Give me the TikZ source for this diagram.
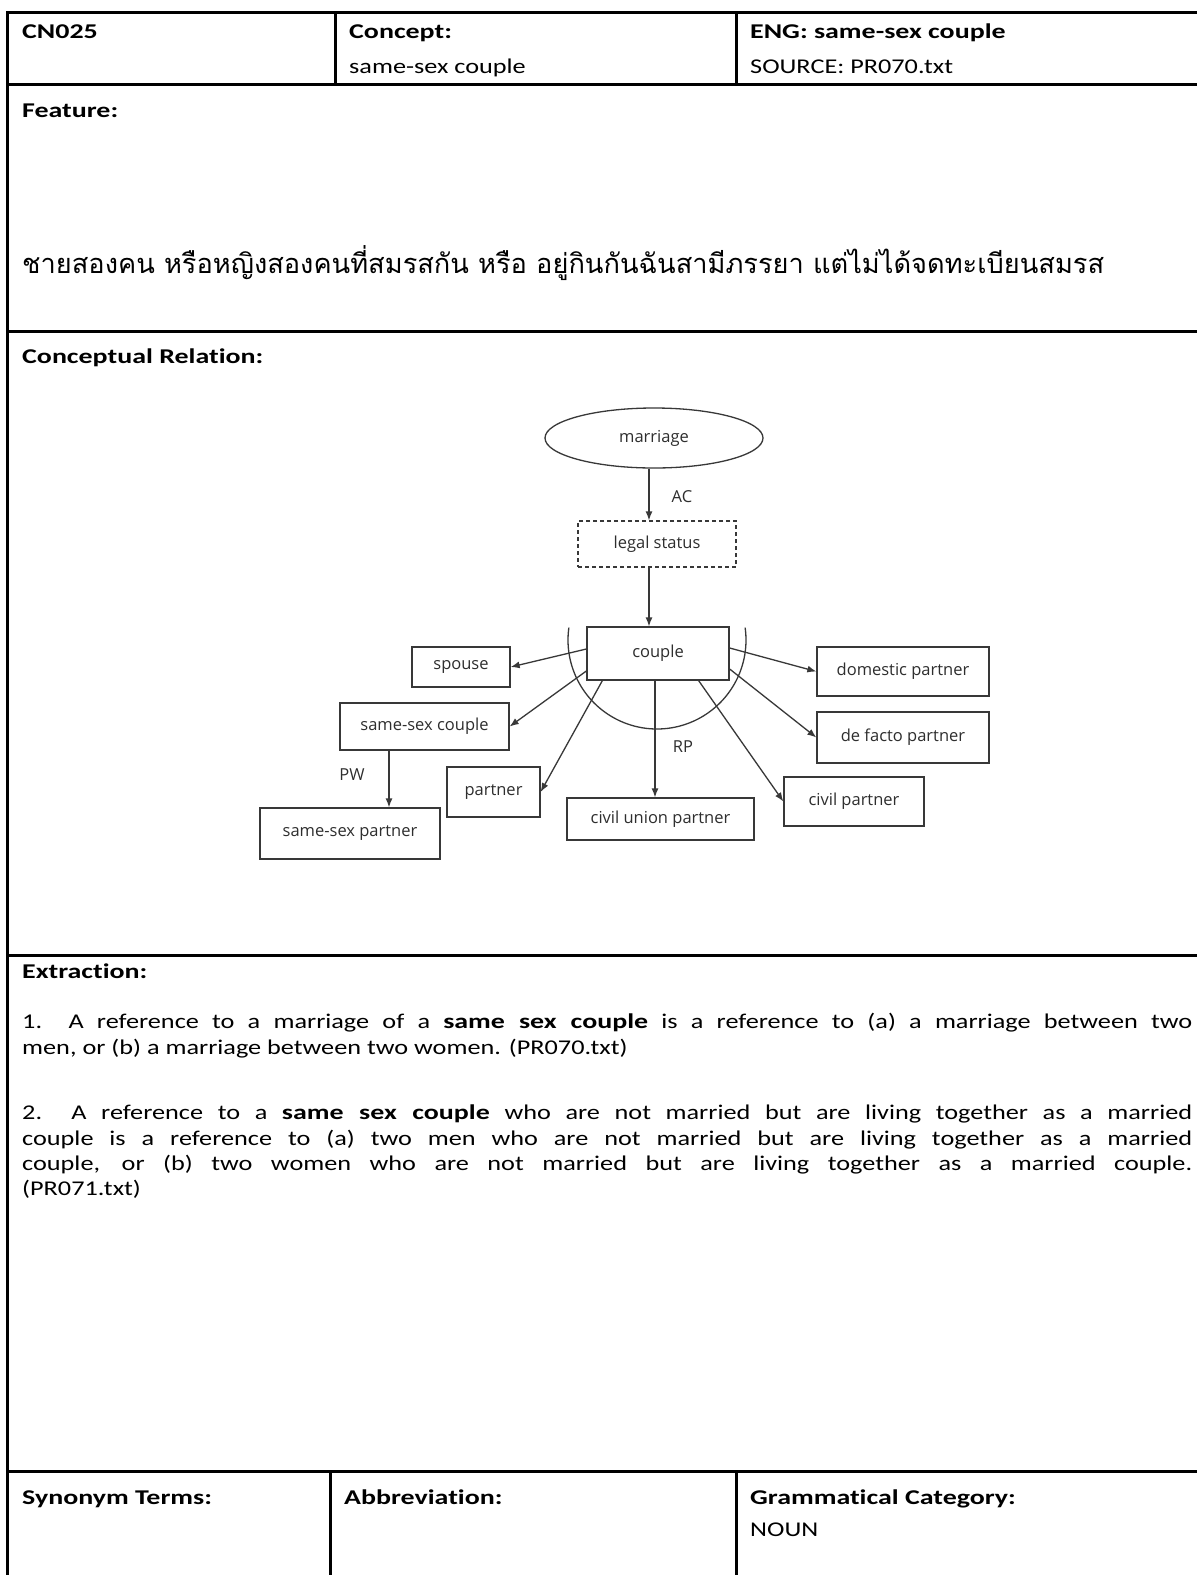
\documentclass[tikz,border=0pt]{standalone}
\usepackage{fontspec}
\setmainfont{Carlito}[Ligatures=NoCommon, FakeStretch=1.25, BoldFeatures={FakeStretch=1.33}]
\newfontfamily\diagfont{Open Sans}
\newfontfamily\thaifont[Script=Thai]{Loma}
\usetikzlibrary{arrows.meta,shapes.geometric}
\definecolor{diagline}{gray}{0.22}
\definecolor{diagtext}{gray}{0.18}

\begin{document}
\begin{tikzpicture}[x=1pt,y=-1pt,
  rule/.style={line width=3pt, line cap=rect},
  cell/.style={anchor=base west, inner sep=0pt, font=\fontsize{21}{25.3}\selectfont},
  head/.style={cell, font=\fontsize{21}{25.3}\selectfont\bfseries},
  para/.style={anchor=north west, inner sep=0pt, text width=1170pt, align=justify,
               font=\fontsize{21}{25.3}\selectfont},
  box/.style={draw=diagline, line width=1.3pt, rectangle, inner sep=0pt,
              text=diagtext, font=\diagfont\fontsize{16.5}{19}\selectfont},
  rel/.style={inner sep=0pt, text=diagtext, font=\diagfont\fontsize{16.5}{19}\selectfont},
  arrow/.style={draw=diagline, line width=1.3pt, -{Latex[length=9pt,width=7pt]}}]

\useasboundingbox (0,0) rectangle (1197,1575);
\fill[white] (0,0) rectangle (1197,1575);

% ---- table rules ----
\draw[rule] (7,1575) -- (7,12) -- (1200,12);
\draw[rule] (7,84) -- (1200,84);
\draw[rule] (7,331) -- (1200,331);
\draw[rule] (7,955) -- (1200,955);
\draw[rule] (7,1471) -- (1200,1471);
\draw[rule] (335,12) -- (335,84);
\draw[rule] (736,12) -- (736,84);
\draw[rule] (330,1471) -- (330,1580);
\draw[rule] (736,1471) -- (736,1580);

% ---- header row ----
\node[head] (id) at (22,38.5) {CN025};
\node[head] (concepthead) at (349,38.5) {Concept:};
\node[cell] (concept) at (349,73) {same-sex couple};
\node[head] (eng) at (750,38.5) {ENG: same-sex couple};
\node[cell] (source) at (750,73) {SOURCE: PR070.txt};

% ---- feature ----
\node[head] (feature) at (22,117) {Feature:};
\node[anchor=base west, inner sep=0pt, font=\thaifont\fontsize{27.2}{32}\selectfont] (featuretext) at (22,273)
  {ชายสองคน หรือหญิงสองคนที่สมรสกัน หรือ อยู่กินกันฉันสามีภรรยา แต่ไม่ได้จดทะเบียนสมรส};

% ---- conceptual relation ----
\node[head] (relhead) at (22,363) {Conceptual Relation:};

\node[box, ellipse, minimum width=218pt, minimum height=60pt] (marriage) at (654,438) {marriage};
\node[box, dashed, dash pattern=on 4pt off 3pt, minimum width=158pt, minimum height=46pt] (legal) at (657,544) {legal status};
\node[box, minimum width=142pt, minimum height=53pt] (couple) at (658,653.5) {couple};
\node[box, minimum width=98pt, minimum height=40pt] (spouse) at (461,667) {spouse};
\node[box, minimum width=169pt, minimum height=47pt] (ssc) at (424.5,726.5) {same-sex couple};
\node[box, minimum width=180pt, minimum height=51pt] (ssp) at (350,833.5) {same-sex partner};
\node[box, minimum width=93pt, minimum height=50pt] (partner) at (493.5,792) {partner};
\node[box, minimum width=187pt, minimum height=42pt] (cup) at (660.5,819) {civil union partner};
\node[box, minimum width=140pt, minimum height=49pt] (cp) at (854,801.5) {civil partner};
\node[box, minimum width=172pt, minimum height=49pt] (dp) at (903,671.5) {domestic partner};
\node[box, minimum width=172pt, minimum height=51pt] (df) at (903,737.5) {de facto partner};

\node[rel] (ac) at (682,497) {AC};
\node[rel] (rp) at (683,747) {RP};
\node[rel] (pw) at (352,775) {PW};

% grouping arc under the couple box
\draw[diagline, line width=1.3pt, smooth, samples=60, domain=-8:188]
  plot ({657+89*cos(\x)},{640+89*sin(\x)});

\draw[arrow] ([xshift=-5pt]marriage.south) -- ([xshift=-8pt]legal.north);
\draw[arrow] ([xshift=-8pt]legal.south) -- ([xshift=-9pt]couple.north);
\draw[arrow] ([yshift=4.5pt]couple.west) -- (spouse.east);
\draw[arrow] ([yshift=-17.5pt]couple.west) -- (ssc.east);
\draw[arrow] ([xshift=16pt]couple.south west) -- (partner.east);
\draw[arrow] ([xshift=-3pt]couple.south) -- ([xshift=-5.5pt]cup.north);
\draw[arrow] ([xshift=-31pt]couple.south east) -- (cp.west);
\draw[arrow] ([yshift=5.5pt]couple.east) -- (dp.west);
\draw[arrow] ([yshift=-15.5pt]couple.east) -- (df.west);
\draw[arrow] ([xshift=-35.5pt]ssc.south) -- ([xshift=39pt]ssp.north);

% ---- extraction ----
\node[head] (exthead) at (22,978) {Extraction:};
\node[para] (ext1) at (22,1011)
  {\strut 1.\ \ A reference to a marriage of a \textbf{same sex couple} is a reference to (a) a marriage between two\linebreak
   men, or (b) a marriage between two women. (PR070.txt)};
\node[para] (ext2) at (22,1102)
  {\strut 2.\ \ A reference to a \textbf{same sex couple} who are not married but are living together as a married\linebreak
   couple is a reference to (a) two men who are not married but are living together as a married\linebreak
   couple, or (b) two women who are not married but are living together as a married couple.\linebreak
   (PR071.txt)};

% ---- bottom row ----
\node[head] (syn) at (22,1504) {Synonym Terms:};
\node[head] (abbr) at (344,1504) {Abbreviation:};
\node[head] (gram) at (750,1504) {Grammatical Category:};
\node[cell] (pos) at (750,1536) {NOUN};
\end{tikzpicture}
\end{document}
